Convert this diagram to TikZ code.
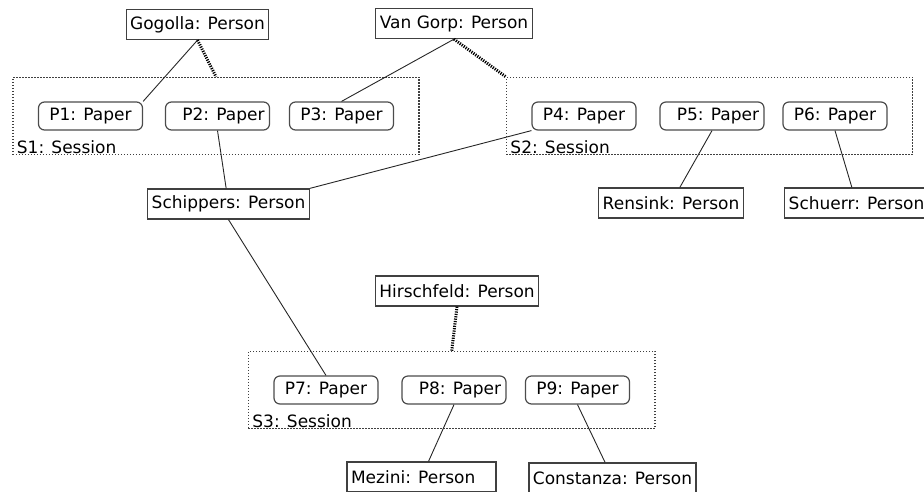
\documentclass[tikz,border=0pt]{standalone}
\usepackage{fontspec}
\setmainfont{DejaVu Sans}
\usetikzlibrary{fit}
\begin{document}
\begin{tikzpicture}[x=1pt,y=-1pt,font=\fontsize{17}{20}\selectfont,
person/.style={draw=black!75,line width=1.3pt,minimum height=30pt,inner xsep=4pt,inner ysep=0pt},
paper/.style={draw=black!70,line width=1.2pt,rounded corners=6pt,minimum width=104pt,minimum height=28pt,inner sep=0pt},
paperr/.style={paper,text width=94pt,align=flush right,inner xsep=5pt},
session/.style={draw=black!75,line width=1.3pt,dash pattern=on 1.4pt off 1.6pt,inner xsep=25pt,inner ysep=24pt},
sesslabel/.style={anchor=base west,inner sep=0pt},
link/.style={line width=0.9pt,black!85},
owner/.style={line width=3pt,dash pattern=on 1.2pt off 1.2pt}]
\useasboundingbox (0,0) rectangle (924,491);
\node[person] (gogolla) at (197.5,24.5) {Gogolla: Person};
\node[person] (vangorp) at (454,23.5) {Van Gorp: Person};
\node[paper] (p1) at (90.5,116) {P1: Paper};
\node[paperr] (p2) at (217.5,116) {P2: Paper};
\node[paper] (p3) at (341.5,116) {P3: Paper};
\node[paper] (p4) at (584,116) {P4: Paper};
\node[paperr] (p5) at (712,116) {P5: Paper};
\node[paper] (p6) at (835,116) {P6: Paper};
\node[session,fit=(p1)(p3)] (s1) {};
\node[session,fit=(p4)(p6)] (s2) {};
\node[sesslabel] (s1lbl) at ([xshift=4.5pt,yshift=2pt]s1.south west) {S1: Session};
\node[sesslabel] (s2lbl) at ([xshift=4.5pt,yshift=2pt]s2.south west) {S2: Session};
\node[person] (schippers) at (228.5,204) {Schippers: Person};
\node[person] (rensink) at (671,203) {Rensink: Person};
\node[person] (schuerr) at (856.5,203) {Schuerr: Person};
\node[person] (hirschfeld) at (457,291) {Hirschfeld: Person};
\node[paper] (p7) at (326,390) {P7: Paper};
\node[paperr] (p8) at (454,390) {P8: Paper};
\node[paper] (p9) at (577.5,390) {P9: Paper};
\node[session,fit=(p7)(p9)] (s3) {};
\node[sesslabel] (s3lbl) at ([xshift=4.5pt,yshift=2pt]s3.south west) {S3: Session};
\node[person,text width=141pt,align=flush left] (mezini) at (421.5,477) {Mezini: Person};
\node[person] (constanza) at (612.5,478) {Constanza: Person};
\draw[link] (gogolla.south) -- (p1.north east);
\draw[link] (vangorp.south) -- (p3.north);
\draw[link] (p2.south) -- (schippers);
\draw[link] (p4.south west) -- (schippers.north east);
\draw[link] (p5.south) -- (rensink);
\draw[link] (p6.south) -- (schuerr);
\draw[link] (schippers.south) -- (p7.north);
\draw[link] (p8.south) -- (mezini);
\draw[link] (p9.south) -- (constanza);
\draw[owner] (gogolla.south) -- (s1.north);
\draw[owner] (vangorp.south) -- (s2.north west);
\draw[owner] (hirschfeld.south) -- (s3.north);
\end{tikzpicture}
\end{document}
